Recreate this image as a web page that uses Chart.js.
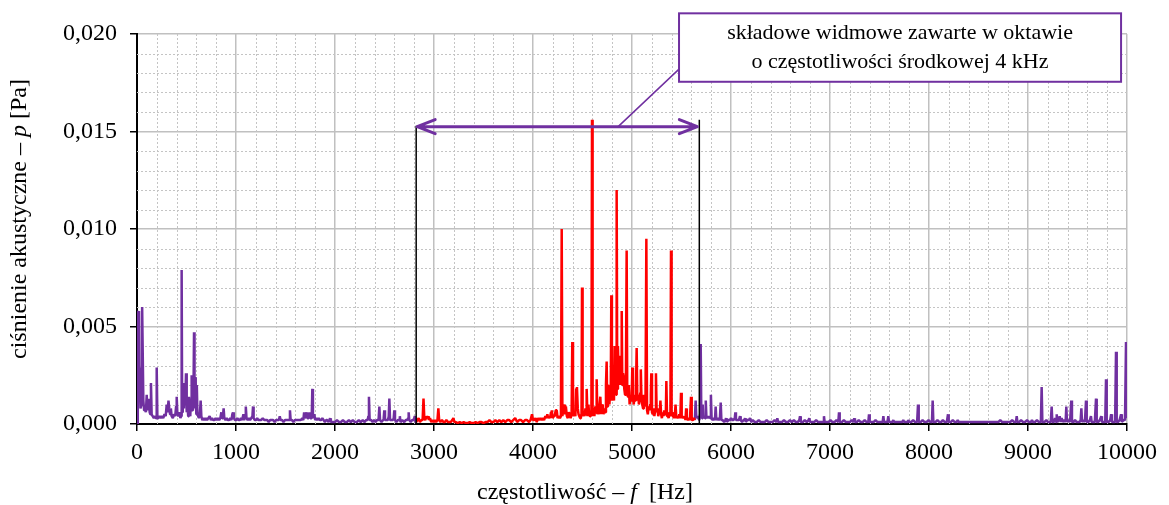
<!DOCTYPE html>
<html lang="pl">
<head>
<meta charset="UTF-8">
<title>Widmo ciśnienia akustycznego</title>
<script src="https://cdn.jsdelivr.net/npm/chart.js"></script>
<style>
  html, body { margin: 0; padding: 0; background: #fff; }
  #wrap { width: 1169px; height: 505px; }
</style>
</head>
<body>
<div id="wrap"><canvas id="spectrum" width="1169" height="505"></canvas></div>
<script>
// spectrum below the 4 kHz octave: [frequency Hz, pressure Pa]
const lowBand = [
  [0,0],[8,0.0057],[13,0.0058],[20,0.0030],[28,0.0024],[35,0.0008],[45,0.0010],[52,0.0060],[58,0.0060],
  [64,0.0012],[72,0.0007],[80,0.0009],[90,0.0006],[98,0.0015],[104,0.0007],[112,0.0010],[120,0.0013],
  [128,0.0006],[135,0.0005],[141,0.0021],[148,0.0005],[158,0.0004],[170,0.0003],[182,0.0004],[192,0.0003],
  [199,0.0029],[206,0.0003],[215,0.0003],[228,0.0004],[240,0.0003],[252,0.0004],[265,0.0003],[278,0.0005],
  [290,0.0004],[300,0.0010],[310,0.0006],[318,0.0012],[326,0.0008],[334,0.0005],[342,0.0008],[350,0.0004],
  [362,0.0003],[374,0.0005],[386,0.0004],[395,0.0009],[401,0.0014],[408,0.0005],[418,0.0004],[428,0.0006],
  [438,0.0003],[446,0.0004],[451,0.0079],[456,0.0006],[462,0.0010],[468,0.0021],[474,0.0008],[482,0.0020],
  [488,0.0011],[495,0.0026],[502,0.0006],[510,0.0010],[517,0.0004],[525,0.0014],[531,0.0005],[538,0.0004],
  [546,0.0013],[552,0.0025],[558,0.0007],[565,0.0010],[571,0.0018],[576,0.0047],[581,0.0008],[587,0.0024],
  [593,0.0021],[599,0.0005],[604,0.0020],[610,0.0006],[618,0.0004],[626,0.0003],[635,0.0005],[643,0.0012],
  [650,0.0004],[660,0.0002],[672,0.0003],[684,0.0002],[696,0.0003],[708,0.0002],[720,0.0003],[734,0.0004],
  [746,0.0002],[758,0.0003],[770,0.0002],[782,0.0002],[794,0.0003],[806,0.0002],[818,0.0003],[830,0.0002],
  [842,0.0003],[852,0.0006],[860,0.0003],[868,0.0004],[875,0.0008],[882,0.0003],[894,0.0002],[906,0.0003],
  [918,0.0002],[930,0.0002],[942,0.0003],[954,0.0002],[963,0.0005],[970,0.0006],[978,0.0003],[990,0.0002],
  [1002,0.0002],[1014,0.0003],[1026,0.0002],[1038,0.0002],[1050,0.0003],[1062,0.0002],[1075,0.0005],
  [1082,0.0002],[1092,0.0004],[1099,0.0009],[1106,0.0003],[1118,0.0002],[1130,0.0003],[1142,0.0002],
  [1154,0.0003],[1166,0.0004],[1172,0.0009],[1178,0.0003],[1190,0.0002],[1202,0.0002],[1214,0.0003],
  [1226,0.0002],[1240,0.0002],[1255,0.0002],[1270,0.0003],[1285,0.0002],[1300,0.0002],[1315,0.0002],
  [1330,0.0001],[1345,0.0002],[1360,0.0002],[1375,0.0002],[1390,0.0001],[1405,0.0002],[1420,0.0002],
  [1434,0.0002],[1442,0.0004],[1450,0.0002],[1465,0.0002],[1480,0.0001],[1495,0.0002],[1510,0.0002],
  [1525,0.0002],[1538,0.0002],[1545,0.0007],[1552,0.0002],[1565,0.0002],[1580,0.0001],[1595,0.0002],
  [1610,0.0002],[1625,0.0002],[1640,0.0002],[1655,0.0002],[1670,0.0003],[1680,0.0002],[1688,0.0006],
  [1696,0.0003],[1706,0.0004],[1714,0.0006],[1722,0.0003],[1733,0.0003],[1741,0.0006],[1750,0.0003],
  [1758,0.0003],[1765,0.0004],[1771,0.0018],[1777,0.0004],[1785,0.0003],[1791,0.0005],[1800,0.0002],
  [1810,0.0003],[1822,0.0002],[1835,0.0003],[1848,0.0002],[1860,0.0002],[1872,0.0003],[1885,0.0002],
  [1898,0.0001],[1910,0.0002],[1922,0.0002],[1935,0.0001],[1944,0.0002],[1950,0.0003],[1958,0.0001],
  [1972,0.0001],[1985,0.0001],[2000,0.0001],[2020,0.0002],[2040,0.0001],[2060,0.0001],[2080,0.0002],
  [2100,0.0001],[2120,0.0001],[2140,0.0002],[2160,0.0001],[2180,0.0002],[2200,0.0001],[2220,0.0001],
  [2240,0.0002],[2260,0.0001],[2280,0.0002],[2300,0.0001],[2315,0.0002],[2330,0.0002],[2337,0.0004],
  [2343,0.0014],[2350,0.0002],[2365,0.0002],[2380,0.0001],[2395,0.0002],[2410,0.0001],[2425,0.0002],
  [2440,0.0002],[2448,0.0009],[2455,0.0002],[2470,0.0001],[2485,0.0002],[2492,0.0003],[2498,0.0007],
  [2505,0.0002],[2520,0.0002],[2535,0.0002],[2543,0.0004],[2549,0.0013],[2556,0.0002],[2570,0.0002],
  [2585,0.0002],[2593,0.0003],[2599,0.0007],[2606,0.0002],[2620,0.0001],[2635,0.0002],[2648,0.0002],
  [2655,0.0004],[2662,0.0001],[2680,0.0002],[2700,0.0001],[2715,0.0002],[2730,0.0002],[2738,0.0003],
  [2744,0.0006],[2750,0.0002],[2765,0.0001],[2780,0.0002],[2795,0.0002],[2806,0.0004],[2813,0.0001],
  [2820,0.0001]
];

// components inside the octave with 4 kHz centre frequency
const octaveBand = [
  [2820,0.0001],[2832,0.0002],[2845,0.0003],[2858,0.0001],[2872,0.0002],[2885,0.0002],[2894,0.0013],
  [2902,0.0003],[2912,0.0002],[2922,0.0004],[2932,0.0003],[2940,0.0004],[2948,0.0002],[2960,0.0003],
  [2972,0.0001],[2985,0.0002],[2998,0.0001],[3010,0.0002],[3022,0.0001],[3035,0.0002],[3044,0.0008],
  [3052,0.0002],[3065,0.0001],[3080,0.0002],[3095,0.0001],[3110,0.0001],[3125,0.0002],[3140,0.0001],
  [3155,0.0001],[3170,0.0001],[3185,0.0002],[3196,0.0003],[3205,0.0001],[3220,0.0001],[3240,0.00005],
  [3260,0.0001],[3280,0.00005],[3300,0.0001],[3320,0.00005],[3340,0.00005],[3360,0.0001],[3380,0.00005],
  [3400,0.00005],[3420,0.0001],[3440,0.00005],[3460,0.0001],[3480,0.0001],[3500,0.00005],[3520,0.0001],
  [3540,0.0001],[3560,0.0002],[3580,0.0001],[3600,0.0001],[3620,0.0002],[3640,0.0001],[3660,0.0002],
  [3680,0.0001],[3700,0.0002],[3720,0.0001],[3740,0.0002],[3760,0.0002],[3780,0.0001],[3800,0.0002],
  [3820,0.0003],[3840,0.0001],[3860,0.0002],[3880,0.0002],[3900,0.0001],[3920,0.0002],[3940,0.0002],
  [3960,0.0001],[3975,0.0002],[3990,0.0005],[4000,0.0002],[4012,0.0002],[4025,0.0003],[4038,0.0001],
  [4050,0.0003],[4062,0.0002],[4075,0.0003],[4088,0.0002],[4100,0.0003],[4112,0.0002],[4125,0.0004],
  [4135,0.0003],[4145,0.0005],[4152,0.0003],[4162,0.0004],[4172,0.0003],[4182,0.0006],[4190,0.0007],
  [4198,0.0003],[4208,0.0004],[4218,0.0004],[4230,0.0007],[4240,0.0007],[4248,0.0003],[4260,0.0004],
  [4272,0.0003],[4282,0.0004],[4290,0.0100],[4297,0.0004],[4305,0.0009],[4315,0.0010],[4322,0.0005],
  [4332,0.0009],[4342,0.0004],[4352,0.0003],[4362,0.0006],[4372,0.0005],[4380,0.0003],[4390,0.0005],
  [4397,0.0042],[4404,0.0006],[4412,0.0004],[4420,0.0006],[4428,0.0004],[4436,0.0018],[4444,0.0019],
  [4452,0.0008],[4460,0.0005],[4468,0.0004],[4476,0.0003],[4484,0.0005],[4490,0.0004],[4495,0.0070],
  [4501,0.0004],[4510,0.0006],[4520,0.0004],[4530,0.0008],[4537,0.0005],[4542,0.0018],[4550,0.0004],
  [4560,0.0010],[4567,0.0005],[4576,0.0004],[4583,0.0006],[4590,0.0005],[4596,0.0156],[4602,0.0004],
  [4610,0.0008],[4620,0.0004],[4630,0.0009],[4637,0.0006],[4643,0.0023],[4650,0.0005],[4658,0.0009],
  [4666,0.0005],[4673,0.0010],[4680,0.0014],[4688,0.0005],[4697,0.0010],[4705,0.0009],[4712,0.0005],
  [4720,0.0008],[4730,0.0006],[4737,0.0020],[4744,0.0032],[4750,0.0009],[4757,0.0020],[4765,0.0019],
  [4772,0.0010],[4779,0.0018],[4785,0.0014],[4791,0.0066],[4797,0.0012],[4804,0.0025],[4811,0.0020],
  [4818,0.0012],[4825,0.0040],[4832,0.0022],[4839,0.0015],[4845,0.0120],[4851,0.0018],[4858,0.0040],
  [4865,0.0024],[4872,0.0030],[4878,0.0020],[4884,0.0035],[4890,0.0028],[4896,0.0058],[4902,0.0020],
  [4909,0.0026],[4916,0.0024],[4922,0.0018],[4930,0.0015],[4938,0.0018],[4946,0.0089],[4952,0.0015],
  [4960,0.0014],[4968,0.0020],[4976,0.0010],[4984,0.0015],[4992,0.0012],[4998,0.0016],[5003,0.0029],
  [5010,0.0014],[5018,0.0010],[5025,0.0015],[5032,0.0012],[5040,0.0018],[5047,0.0039],[5054,0.0012],
  [5062,0.0015],[5070,0.0010],[5078,0.0014],[5084,0.0016],[5089,0.0028],[5096,0.0012],[5104,0.0010],
  [5112,0.0008],[5120,0.0015],[5128,0.0010],[5136,0.0009],[5145,0.0095],[5152,0.0007],[5160,0.0005],
  [5168,0.0009],[5176,0.0007],[5184,0.0010],[5190,0.0015],[5195,0.0026],[5202,0.0006],[5210,0.0005],
  [5218,0.0008],[5226,0.0004],[5234,0.0007],[5242,0.0026],[5249,0.0006],[5257,0.0008],[5265,0.0004],
  [5273,0.0006],[5280,0.0005],[5287,0.0012],[5294,0.0005],[5302,0.0003],[5310,0.0006],[5318,0.0004],
  [5326,0.0007],[5334,0.0005],[5342,0.0006],[5347,0.0022],[5354,0.0004],[5362,0.0005],[5370,0.0003],
  [5380,0.0006],[5388,0.0004],[5394,0.0089],[5400,0.0004],[5408,0.0006],[5416,0.0004],[5424,0.0003],
  [5432,0.0004],[5440,0.0010],[5448,0.0003],[5458,0.0004],[5468,0.0003],[5478,0.0005],[5488,0.0003],
  [5495,0.0016],[5502,0.0003],[5512,0.0004],[5522,0.0003],[5532,0.0004],[5540,0.0002],[5547,0.0008],
  [5554,0.0003],[5565,0.0002],[5575,0.0003],[5585,0.0002],[5596,0.0014],[5603,0.0002],[5615,0.0002],
  [5625,0.0003],[5635,0.0002]
];

// spectrum above the octave
const highBand = [
  [5635,0.0002],[5643,0.0012],[5650,0.0003],[5660,0.0004],[5670,0.0003],[5680,0.0002],[5688,0.0005],
  [5694,0.0041],[5700,0.0004],[5708,0.0003],[5714,0.0010],[5720,0.0003],[5730,0.0004],[5738,0.0003],
  [5745,0.0012],[5752,0.0003],[5762,0.0004],[5772,0.0003],[5782,0.0004],[5790,0.0003],[5797,0.0015],
  [5804,0.0003],[5815,0.0002],[5828,0.0003],[5838,0.0002],[5845,0.0009],[5852,0.0002],[5865,0.0003],
  [5878,0.0002],[5888,0.0003],[5896,0.0011],[5903,0.0002],[5915,0.0002],[5930,0.0001],[5943,0.0002],
  [5950,0.0003],[5958,0.0001],[5975,0.0002],[5990,0.0002],[6000,0.0003],[6010,0.0002],[6025,0.0002],
  [6038,0.0003],[6044,0.0006],[6050,0.0002],[6065,0.0002],[6080,0.0002],[6091,0.0004],[6098,0.0002],
  [6112,0.0001],[6125,0.0002],[6136,0.0002],[6142,0.0003],[6150,0.0001],[6165,0.0002],[6180,0.0002],
  [6192,0.0003],[6205,0.0001],[6220,0.0002],[6240,0.0001],[6260,0.0001],[6280,0.0002],[6300,0.0001],
  [6320,0.0001],[6340,0.0001],[6360,0.0002],[6380,0.0001],[6400,0.0001],[6420,0.0001],[6440,0.0002],
  [6460,0.0001],[6468,0.0003],[6476,0.0001],[6495,0.0001],[6515,0.0001],[6535,0.0002],[6555,0.0001],
  [6575,0.0001],[6595,0.0002],[6615,0.0001],[6635,0.0002],[6655,0.0001],[6675,0.0001],[6690,0.0002],
  [6697,0.0004],[6705,0.0001],[6725,0.0001],[6745,0.0002],[6765,0.0001],[6783,0.0002],[6791,0.0003],
  [6799,0.0001],[6820,0.0001],[6840,0.0001],[6860,0.0002],[6880,0.0001],[6900,0.0001],[6920,0.0001],
  [6932,0.0001],[6939,0.0004],[6946,0.0001],[6965,0.0001],[6985,0.0001],[7005,0.0002],[7025,0.0001],
  [7045,0.0001],[7065,0.0002],[7084,0.0001],[7091,0.0006],[7098,0.0001],[7120,0.0001],[7140,0.0002],
  [7160,0.0001],[7180,0.0001],[7200,0.0001],[7220,0.0002],[7238,0.0001],[7245,0.0003],[7252,0.0001],
  [7270,0.0001],[7290,0.0002],[7310,0.0001],[7330,0.0001],[7350,0.0002],[7370,0.0001],[7387,0.0001],
  [7394,0.0005],[7401,0.0001],[7420,0.0001],[7440,0.0001],[7460,0.0002],[7480,0.0001],[7500,0.0001],
  [7520,0.0001],[7532,0.0001],[7539,0.0004],[7546,0.0001],[7565,0.0001],[7580,0.0001],[7589,0.0004],
  [7596,0.0001],[7615,0.0001],[7630,0.0001],[7640,0.0002],[7648,0.0001],[7670,0.0001],[7690,0.0001],
  [7710,0.0001],[7730,0.0001],[7740,0.0002],[7750,0.0001],[7770,0.0001],[7785,0.0001],[7791,0.0002],
  [7800,0.0001],[7820,0.0001],[7840,0.0002],[7860,0.0001],[7880,0.0001],[7889,0.0010],[7896,0.0001],
  [7915,0.0001],[7935,0.0002],[7955,0.0001],[7975,0.0001],[7995,0.0002],[8015,0.0001],[8030,0.0001],
  [8037,0.0012],[8044,0.0001],[8065,0.0001],[8085,0.0002],[8105,0.0001],[8125,0.0001],[8140,0.0002],
  [8160,0.0001],[8180,0.0001],[8192,0.0005],[8199,0.0001],[8220,0.0001],[8240,0.0002],[8260,0.0001],
  [8280,0.0001],[8290,0.0002],[8300,0.0001],[8320,0.0001],[8340,0.0001],[8360,0.0001],[8380,0.0001],
  [8400,0.0001],[8420,0.0001],[8440,0.0001],[8460,0.0001],[8480,0.0001],[8500,0.0001],[8520,0.0001],
  [8540,0.0001],[8560,0.0001],[8580,0.0001],[8600,0.0001],[8620,0.0001],[8640,0.0001],[8660,0.0001],
  [8680,0.0001],[8700,0.0001],[8720,0.0002],[8740,0.0001],[8760,0.0001],[8780,0.0001],[8800,0.0001],
  [8820,0.0001],[8840,0.0002],[8860,0.0001],[8878,0.0001],[8886,0.0004],[8893,0.0001],[8910,0.0001],
  [8930,0.0002],[8950,0.0001],[8970,0.0001],[8990,0.0002],[9010,0.0001],[9030,0.0001],[9040,0.0002],
  [9050,0.0001],[9070,0.0001],[9090,0.0002],[9110,0.0001],[9130,0.0001],[9138,0.0019],[9145,0.0001],
  [9165,0.0001],[9185,0.0002],[9200,0.0001],[9215,0.0001],[9230,0.0001],[9239,0.0009],[9246,0.0001],
  [9260,0.0001],[9274,0.0003],[9284,0.0001],[9290,0.0005],[9297,0.0001],[9310,0.0002],[9320,0.0004],
  [9330,0.0001],[9340,0.0003],[9350,0.0001],[9365,0.0002],[9380,0.0001],[9387,0.0009],[9394,0.0001],
  [9410,0.0002],[9425,0.0001],[9437,0.0012],[9444,0.0001],[9460,0.0001],[9475,0.0002],[9490,0.0001],
  [9505,0.0001],[9520,0.0001],[9532,0.0002],[9539,0.0008],[9546,0.0001],[9560,0.0002],[9575,0.0001],
  [9586,0.0012],[9593,0.0001],[9610,0.0001],[9625,0.0002],[9636,0.0004],[9643,0.0001],[9660,0.0001],
  [9675,0.0001],[9687,0.0013],[9694,0.0001],[9710,0.0001],[9725,0.0002],[9740,0.0004],[9747,0.0001],
  [9765,0.0001],[9780,0.0001],[9788,0.0023],[9795,0.0001],[9812,0.0001],[9830,0.0002],[9840,0.0005],
  [9848,0.0001],[9865,0.0001],[9880,0.0001],[9889,0.0037],[9896,0.0001],[9910,0.0001],[9925,0.0002],
  [9940,0.0005],[9948,0.0001],[9965,0.0002],[9980,0.0002],[9990,0.0042],[9997,0.0003],[10000,0.0004]
];

// octave limits (Hz) and callout text
const octaveEdges = [2820, 5680];
const octaveEdgeTops = [0.0153, 0.0156];
const arrowSpan = [2830, 5660];
const arrowLevel = 0.01525;
const calloutLines = ['składowe widmowe zawarte w oktawie', 'o częstotliwości środkowej 4 kHz'];

const SERIF = "'Liberation Serif', 'Times New Roman', serif";
const PURPLE = '#7030A0';

const toPoints = band => band.map(([f, p]) => ({ x: f, y: p }));

// dotted minor grid every 200 Hz / 0.001 Pa
const minorGrid = {
  id: 'minorGrid',
  beforeDatasetsDraw(chart) {
    const { ctx, chartArea: a, scales: { x, y } } = chart;
    ctx.save();
    ctx.strokeStyle = '#c4c4c4';
    ctx.lineWidth = 1;
    ctx.setLineDash([2, 2]);
    ctx.beginPath();
    for (let i = 1; i < 50; i++) {
      if (i % 5 === 0) continue;
      const px = Math.round(x.getPixelForValue(i * 200)) + 0.5;
      ctx.moveTo(px, a.top); ctx.lineTo(px, a.bottom);
    }
    for (let i = 1; i < 20; i++) {
      if (i % 5 === 0) continue;
      const py = Math.round(y.getPixelForValue(i / 1000)) + 0.5;
      ctx.moveTo(a.left, py); ctx.lineTo(a.right, py);
    }
    ctx.stroke();
    ctx.restore();
  }
};

// text made of plain and italic pieces, centred on (0,0) of the current transform
function drawMixed(ctx, parts, size) {
  const fonts = parts.map(p => (p.italic ? 'italic ' : '') + size + 'px ' + SERIF);
  const widths = parts.map((p, i) => { ctx.font = fonts[i]; return ctx.measureText(p.text).width; });
  let cx = -widths.reduce((s, w) => s + w, 0) / 2;
  ctx.textBaseline = 'middle';
  ctx.textAlign = 'left';
  parts.forEach((p, i) => {
    ctx.font = fonts[i];
    ctx.fillText(p.text, cx, 0);
    cx += widths[i];
  });
}

const titles = {
  id: 'titles',
  afterDraw(chart) {
    const { ctx } = chart;
    ctx.save();
    ctx.fillStyle = '#000';
    ctx.translate(20, 219);
    ctx.rotate(-Math.PI / 2);
    drawMixed(ctx, [{ text: 'ciśnienie akustyczne – ' }, { text: 'p', italic: true }, { text: ' [Pa]' }], 24);
    ctx.restore();
    ctx.save();
    ctx.fillStyle = '#000';
    ctx.translate(585, 493);
    drawMixed(ctx, [{ text: 'częstotliwość – ' }, { text: 'f', italic: true }, { text: '  [Hz]' }], 24);
    ctx.restore();
  }
};

// octave limits, double arrow and the callout box
const octaveNote = {
  id: 'octaveNote',
  afterDatasetsDraw(chart) {
    const { ctx, scales: { x, y } } = chart;
    ctx.save();
    ctx.strokeStyle = '#000';
    ctx.lineWidth = 1.5;
    octaveEdges.forEach((f, i) => {
      const px = x.getPixelForValue(f);
      ctx.beginPath();
      ctx.moveTo(px, y.getPixelForValue(0));
      ctx.lineTo(px, y.getPixelForValue(octaveEdgeTops[i]));
      ctx.stroke();
    });

    const ay = y.getPixelForValue(arrowLevel);
    const x1 = x.getPixelForValue(arrowSpan[0]);
    const x2 = x.getPixelForValue(arrowSpan[1]);
    ctx.strokeStyle = PURPLE;
    ctx.lineWidth = 3;
    ctx.lineCap = 'round';
    ctx.lineJoin = 'round';
    ctx.beginPath();
    ctx.moveTo(x1, ay); ctx.lineTo(x2, ay);
    ctx.moveTo(x1 + 18, ay - 7); ctx.lineTo(x1, ay); ctx.lineTo(x1 + 18, ay + 7);
    ctx.moveTo(x2 - 18, ay - 7); ctx.lineTo(x2, ay); ctx.lineTo(x2 - 18, ay + 7);
    ctx.stroke();

    // callout box
    const bl = x.getPixelForValue(5475), br = x.getPixelForValue(9940);
    const bt = y.getPixelForValue(0.02106), bb = y.getPixelForValue(0.01755);
    ctx.lineWidth = 1.5;
    ctx.beginPath();
    ctx.moveTo(x.getPixelForValue(4860), ay);
    ctx.lineTo(bl, y.getPixelForValue(0.0182));
    ctx.stroke();
    ctx.fillStyle = '#fff';
    ctx.fillRect(bl, bt, br - bl, bb - bt);
    ctx.lineWidth = 2;
    ctx.lineCap = 'butt';
    ctx.lineJoin = 'miter';
    ctx.strokeRect(bl, bt, br - bl, bb - bt);
    ctx.fillStyle = '#000';
    ctx.font = '22px ' + SERIF;
    ctx.textAlign = 'center';
    ctx.textBaseline = 'middle';
    const cx = (bl + br) / 2;
    ctx.fillText(calloutLines[0], cx, bt + 20);
    ctx.fillText(calloutLines[1], cx, bt + 48.5);
    ctx.restore();
  }
};

const lineStyle = { borderWidth: 2.5, pointRadius: 0, tension: 0, borderJoinStyle: 'bevel', fill: false };

new Chart(document.getElementById('spectrum'), {
  type: 'line',
  data: {
    datasets: [
      { ...lineStyle, data: toPoints(lowBand), borderColor: PURPLE },
      { ...lineStyle, data: toPoints(octaveBand), borderColor: '#FF0000' },
      { ...lineStyle, data: toPoints(highBand), borderColor: PURPLE }
    ]
  },
  options: {
    responsive: false,
    animation: false,
    events: [],
    layout: { padding: { top: 34, right: 42, left: 0, bottom: 0 } },
    plugins: { legend: { display: false }, tooltip: { enabled: false } },
    scales: {
      x: {
        type: 'linear',
        min: 0, max: 10000,
        afterFit: s => { s.height = 81; },
        ticks: {
          stepSize: 1000,
          padding: 7,
          color: '#000',
          font: { family: SERIF, size: 24 },
          maxRotation: 0,
          callback: v => String(v)
        },
        grid: { color: '#c0c0c0', lineWidth: 1.5, tickColor: '#000', tickLength: 7, tickWidth: 1.5 },
        border: { color: '#000', width: 2 }
      },
      y: {
        min: 0, max: 0.02,
        afterFit: s => { s.width = 137; },
        ticks: {
          stepSize: 0.005,
          padding: 13,
          color: '#000',
          font: { family: SERIF, size: 24 },
          callback: v => v.toFixed(3).replace('.', ',')
        },
        grid: { color: '#c0c0c0', lineWidth: 1.5, tickColor: '#000', tickLength: 7, tickWidth: 1.5 },
        border: { color: '#000', width: 2 }
      }
    }
  },
  plugins: [minorGrid, octaveNote, titles]
});
</script>
</body>
</html>
